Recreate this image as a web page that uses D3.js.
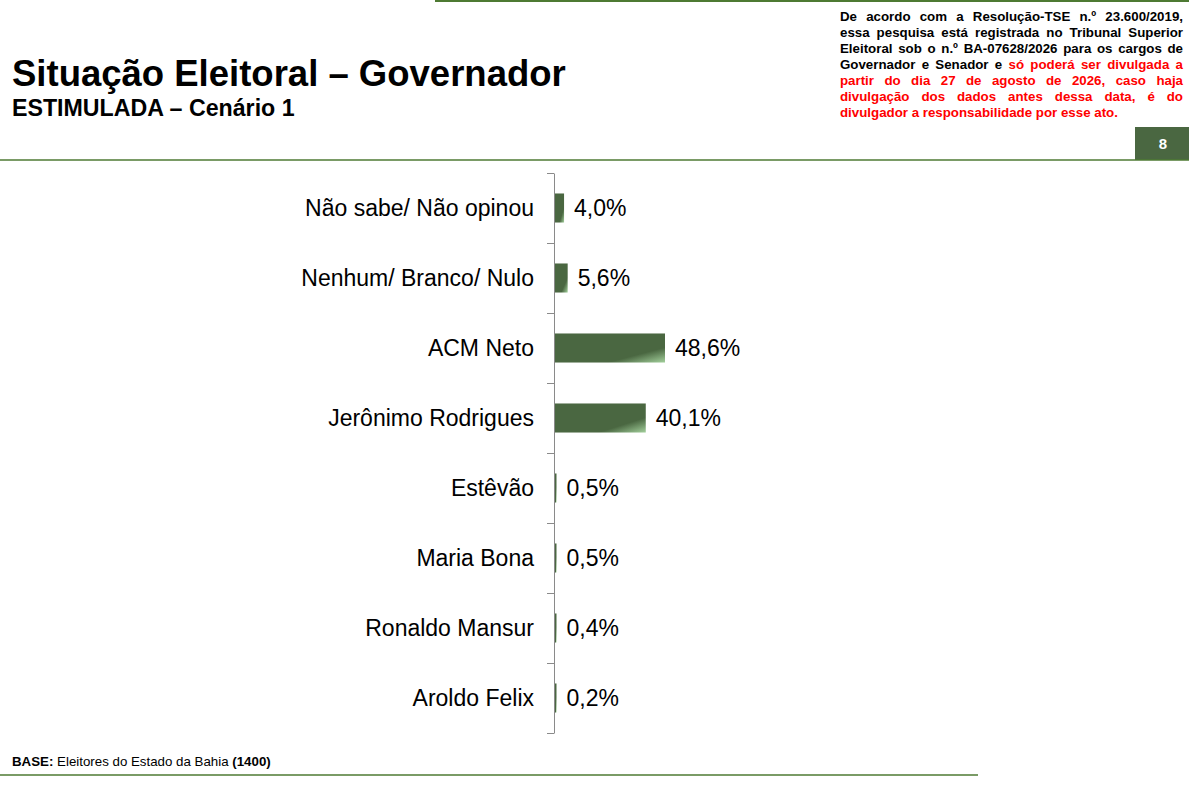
<!DOCTYPE html>
<html>
<head>
<meta charset="utf-8">
<script src="https://cdn.jsdelivr.net/npm/d3@7"></script>
<style>
  body { margin: 0; background: #fff; }
  svg { display: block; font-family: "Liberation Sans", Arial, sans-serif; }
</style>
</head>
<body>
<div id="wrapper"></div>
<script>
const categories = [
    "Não sabe/ Não opinou",
    "Nenhum/ Branco/ Nulo",
    "ACM Neto",
    "Jerônimo Rodrigues",
    "Estêvão",
    "Maria Bona",
    "Ronaldo Mansur",
    "Aroldo Felix"
];
const values = [4.0, 5.6, 48.6, 40.1, 0.5, 0.5, 0.4, 0.2];

// each line: [text, isRed] parts
const noticeLines = [
    [["De acordo com a Resolução-TSE n.º 23.600/2019,", false]],
    [["essa pesquisa está registrada no Tribunal Superior", false]],
    [["Eleitoral sob o n.º BA-07628/2026 para os cargos de", false]],
    [["Governador e Senador e", false], ["só poderá ser divulgada a", true]],
    [["partir do dia 27 de agosto de 2026, caso haja", true]],
    [["divulgação dos dados antes dessa data, é do", true]],
    [["divulgador a responsabilidade por esse ato.", true]]
];

const green = "#4a6741";
const lineGreen = "#4e7a33";

const dimensions = {
    width: 1189,
    height: 791,
    margin: { top: 173, left: 554 }
};
dimensions.bounded_height = 560;

const svg = d3.select("#wrapper")
    .append("svg")
    .attr("width", dimensions.width)
    .attr("height", dimensions.height);

// gradient for bars (light corner at right end)
const defs = svg.append("defs");
const grad = defs.append("linearGradient")
    .attr("id", "barGrad")
    .attr("x1", 0).attr("y1", 0)
    .attr("x2", 1).attr("y2", 1);
grad.append("stop").attr("offset", "0%").attr("stop-color", green);
grad.append("stop").attr("offset", "74%").attr("stop-color", green);
grad.append("stop").attr("offset", "100%").attr("stop-color", "#a3d09c");

// header
svg.append("line")
    .attr("x1", 435).attr("x2", dimensions.width)
    .attr("y1", 1).attr("y2", 1)
    .attr("stroke", lineGreen).attr("stroke-width", 2);

svg.append("text")
    .attr("x", 12).attr("y", 86)
    .attr("font-size", 36.5).attr("font-weight", "bold")
    .attr("fill", "#000")
    .text("Situação Eleitoral – Governador");

svg.append("text")
    .attr("x", 12).attr("y", 116)
    .attr("font-size", 23.2).attr("font-weight", "bold")
    .attr("fill", "#000")
    .text("ESTIMULADA – Cenário 1");

// notice block, justified by spreading the words
const notice = svg.append("g")
    .attr("font-size", 13.3)
    .attr("font-weight", "bold");
const notice_left = 840;
const notice_right = 1183;
noticeLines.forEach((parts, i) => {
    const words = [];
    parts.forEach(p => p[0].split(" ").forEach(w => words.push({ w: w, red: p[1] })));
    const y = 21 + i * 16;
    const nodes = words.map(d => notice.append("text")
        .attr("y", y)
        .attr("fill", d.red ? "#ff0000" : "#000")
        .text(d.w));
    const widths = nodes.map(n => n.node().getComputedTextLength());
    const total = d3.sum(widths);
    const gap = i < noticeLines.length - 1
        ? (notice_right - notice_left - total) / (words.length - 1)
        : 3.7;
    let x = notice_left;
    nodes.forEach((n, k) => {
        n.attr("x", x);
        x += widths[k] + gap;
    });
});

svg.append("rect")
    .attr("x", 1135).attr("y", 127)
    .attr("width", 54).attr("height", 33)
    .attr("fill", green);
svg.append("text")
    .attr("x", 1163).attr("y", 149)
    .attr("text-anchor", "middle")
    .attr("font-size", 15).attr("font-weight", "bold")
    .attr("fill", "#fff")
    .text("8");

svg.append("line")
    .attr("x1", 0).attr("x2", dimensions.width)
    .attr("y1", 160).attr("y2", 160)
    .attr("stroke", lineGreen).attr("stroke-width", 1.5);

// chart
const bounds = svg.append("g")
    .attr("transform", `translate(${dimensions.margin.left},${dimensions.margin.top})`);

const y_scale = d3.scaleBand()
    .domain(categories)
    .range([0, dimensions.bounded_height])
    .paddingInner(0.585)
    .paddingOuter(0.2925);

const x_scale = d3.scaleLinear()
    .domain([0, 48.6])
    .range([0, 110]);

// axis with ticks between categories
const tick_scale = d3.scaleLinear()
    .domain([0, categories.length])
    .range([0, dimensions.bounded_height]);
const y_axis_gen = d3.axisLeft(tick_scale)
    .tickValues(d3.range(0, categories.length + 1))
    .tickSize(7)
    .tickSizeOuter(0)
    .tickFormat("");
const y_axis = bounds.append("g").call(y_axis_gen);
y_axis.select(".domain").attr("stroke", "#8a8a8a");
y_axis.selectAll(".tick line").attr("stroke", "#8a8a8a");

const rows = bounds.selectAll("g.row")
    .data(categories.map((c, i) => ({ name: c, value: values[i] })))
    .join("g")
    .attr("class", "row");

rows.append("rect")
    .attr("x", 1)
    .attr("y", d => y_scale(d.name))
    .attr("width", d => Math.max(1.5, x_scale(d.value)))
    .attr("height", y_scale.bandwidth())
    .attr("fill", "url(#barGrad)");

rows.append("text")
    .attr("x", -20)
    .attr("y", d => y_scale(d.name) + y_scale.bandwidth() / 2)
    .attr("dy", "0.36em")
    .attr("text-anchor", "end")
    .attr("font-size", 23)
    .attr("fill", "#000")
    .text(d => d.name);

rows.append("text")
    .attr("x", d => 1 + Math.max(1.5, x_scale(d.value)) + 10)
    .attr("y", d => y_scale(d.name) + y_scale.bandwidth() / 2)
    .attr("dy", "0.36em")
    .attr("font-size", 23)
    .attr("fill", "#000")
    .text(d => d3.format(".1f")(d.value).replace(".", ",") + "%");

// footer
const base = svg.append("text")
    .attr("x", 12).attr("y", 766)
    .attr("font-size", 13.3)
    .attr("fill", "#000");
base.append("tspan").attr("font-weight", "bold").text("BASE:");
base.append("tspan").text(" Eleitores do Estado da Bahia ");
base.append("tspan").attr("font-weight", "bold").text("(1400)");

svg.append("line")
    .attr("x1", 0).attr("x2", 978)
    .attr("y1", 775).attr("y2", 775)
    .attr("stroke", lineGreen).attr("stroke-width", 1.5);
</script>
</body>
</html>
